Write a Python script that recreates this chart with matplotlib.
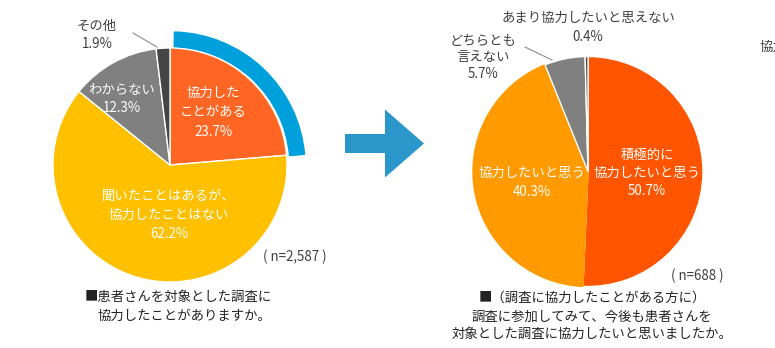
import matplotlib.pyplot as plt
from matplotlib.patches import Wedge, FancyArrow

plt.rcParams['font.family'] = ['Noto Sans CJK JP', 'DejaVu Sans']

# Survey results (%)
left_labels = ["協力した\nことがある", "聞いたことはあるが、\n協力したことはない", "わからない", "その他"]
left_values = [23.7, 62.2, 12.3, 1.9]
left_colors = ["#FF6624", "#FFC000", "#808080", "#454545"]
left_n = "2,587"

right_labels = ["積極的に\n協力したいと思う", "協力したいと思う", "どちらとも\n言えない", "あまり協力したいと思えない"]
right_values = [50.7, 40.3, 5.7, 0.4]
right_colors = ["#FF5500", "#FF9A00", "#808080", "#454545"]
right_n = "688"

W, H = 775, 348
TXT = "#404040"


def Y(y):
    # pixel rows are counted from the top
    return H - y


fig = plt.figure(figsize=(W / 100, H / 100), dpi=100)
ax = fig.add_axes([0, 0, 1, 1])

# --- left pie ---
ax.add_patch(Wedge((171, Y(166)), 134, 5, 88.5, width=15, color="#00A0DC", zorder=0.5))
ax.pie(left_values, colors=left_colors, startangle=90, counterclock=False,
       center=(170, Y(165)), radius=117,
       wedgeprops=dict(edgecolor="white", linewidth=1))

fs = 9.6
ax.text(213, Y(112), f"{left_labels[0]}\n{left_values[0]}%", ha="center", va="center",
        color="white", fontsize=fs, linespacing=1.5)
ax.text(169, Y(215), f"{left_labels[1]}\n{left_values[1]}%", ha="center", va="center",
        color="white", fontsize=fs, linespacing=1.5)
ax.text(122, Y(99), f"{left_labels[2]}\n{left_values[2]}%", ha="center", va="center",
        color="white", fontsize=fs, linespacing=1.35)
ax.text(97, Y(35), f"{left_labels[3]}\n{left_values[3]}%", ha="center", va="center",
        color=TXT, fontsize=fs, linespacing=1.4)
ax.plot([133, 157], [Y(33), Y(47)], color="#8c8c8c", lw=0.8)

ax.text(295, Y(257), f"( n={left_n} )", ha="center", va="center", color=TXT, fontsize=fs)
ax.text(85, Y(297), "■患者さんを対象とした調査に", ha="left", va="center", color="#222222", fontsize=fs)
ax.text(98, Y(316), "協力したことがありますか。", ha="left", va="center", color="#222222", fontsize=fs)

# --- arrow ---
ax.add_patch(FancyArrow(345, Y(143.5), 79, 0, width=19, head_width=68, head_length=39,
                        length_includes_head=True, color="#2B96C9", lw=0))

# --- right pie ---
# the unlabelled remainder is filled in with the neighbouring colour
no_answer = round(100 - sum(right_values), 1)
vals = right_values[:2] + [no_answer] + right_values[2:]
cols = right_colors[:2] + [right_colors[1]] + right_colors[2:]
wedges, _ = ax.pie(vals, colors=cols, startangle=90, counterclock=False,
                   center=(588, Y(171.5)), radius=115,
                   wedgeprops=dict(edgecolor="white", linewidth=1))
wedges[1].set_edgecolor(right_colors[1])
wedges[2].set_edgecolor(right_colors[1])

ax.text(647, Y(173), f"{right_labels[0]}\n{right_values[0]}%", ha="center", va="center",
        color="white", fontsize=fs, linespacing=1.4)
ax.text(532, Y(182.5), f"{right_labels[1]}\n{right_values[1]}%", ha="center", va="center",
        color="white", fontsize=fs, linespacing=1.4)
ax.text(483, Y(57.5), f"{right_labels[2]}\n{right_values[2]}%", ha="center", va="center",
        color=TXT, fontsize=fs, linespacing=1.25)
ax.text(588, Y(27.5), f"{right_labels[3]}\n{right_values[3]}%", ha="center", va="center",
        color=TXT, fontsize=fs, linespacing=1.4)
ax.plot([525, 552], [Y(47), Y(60)], color="#8c8c8c", lw=0.8)

ax.text(697, Y(276), f"( n={right_n} )", ha="center", va="center", color=TXT, fontsize=fs)
ax.text(592, Y(316), "■（調査に協力したことがある方に）\n調査に参加してみて、今後も患者さんを\n対象とした調査に協力したいと思いましたか。",
        ha="center", va="center", color="#222222", fontsize=fs, linespacing=1.35)

# next panel's heading, cut by the edge
ax.text(759, Y(47), "協力", ha="left", va="center", color=TXT, fontsize=fs)

# pie() resets the limits, so set the pixel frame afterwards
ax.set_xlim(0, W)
ax.set_ylim(0, H)
ax.set_aspect("equal")
ax.axis("off")

fig.savefig("out.png", dpi=100)
